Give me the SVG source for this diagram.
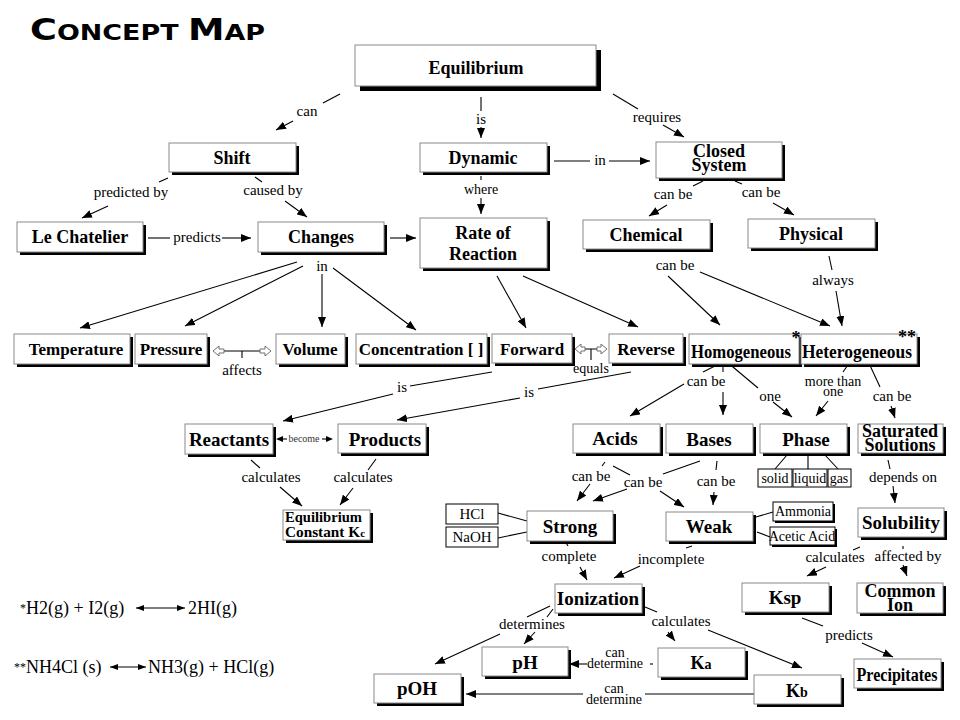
<svg xmlns="http://www.w3.org/2000/svg" width="960" height="720" viewBox="0 0 960 720">
<defs>
<marker id="ah" markerUnits="userSpaceOnUse" markerWidth="10" markerHeight="8" refX="10" refY="4" orient="auto"><path d="M0,0 L10,4 L0,8 z" fill="#000"/></marker>
<marker id="ah2" markerUnits="userSpaceOnUse" markerWidth="8" markerHeight="6" refX="8" refY="3" orient="auto-start-reverse"><path d="M0,0 L8,3 L0,6 z" fill="#000"/></marker>
</defs>
<style>
.sh{fill:#000}
.bx{fill:#fff;stroke:#8a8a8a;stroke-width:1}
.sb{fill:#fff;stroke:#000;stroke-width:1}
.t{font-family:"Liberation Serif","Times New Roman",serif;font-weight:bold;font-size:18px;text-anchor:middle;fill:#000}
.r{font-size:17px}
.b19{font-size:19px}
.s{font-family:"Liberation Serif","Times New Roman",serif;font-size:14px;text-anchor:middle;fill:#000}
.l{font-family:"Liberation Serif","Times New Roman",serif;font-size:15px;text-anchor:middle;fill:#000}
.c{stroke:#000;stroke-width:1.1;fill:none}
.a{marker-end:url(#ah)}
.d{marker-start:url(#ah2);marker-end:url(#ah2)}
.ho{fill:#fff;stroke:#707070;stroke-width:1}
.eq{font-family:"Liberation Serif","Times New Roman",serif;font-size:18px;fill:#000}
</style>
<rect width="960" height="720" fill="#fff"/>

<text x="30" y="40" font-family="DejaVu Sans, Liberation Sans, sans-serif" font-weight="bold" textLength="235" lengthAdjust="spacingAndGlyphs"><tspan font-size="30">C</tspan><tspan font-size="22">ONCEPT </tspan><tspan font-size="30">M</tspan><tspan font-size="22">AP</tspan></text>

<g id="connectors">
<path class="c" d="M340,94 L323,103"/><path class="c a" d="M293,121 L276,130"/>
<path class="c" d="M481,97 L481,111"/><path class="c a" d="M481,127 L481,138"/>
<path class="c" d="M613,94 L638,109"/><path class="c a" d="M663,125 L684,137"/>
<path class="c" d="M554,161 L590,161"/><path class="c a" d="M609,161 L650,161"/>
<path class="c" d="M168,178 L159,182"/><path class="c a" d="M108,206 L82,218"/>
<path class="c" d="M255,177 L262,182"/><path class="c a" d="M285,201 L307,217"/>
<path class="c" d="M148,238 L170,238"/><path class="c a" d="M222,238 L251,238"/>
<path class="c a" d="M390,238 L416,238"/>
<path class="c" d="M481,176 L481,180"/><path class="c a" d="M481,198 L481,214"/>
<path class="c" d="M703,181 L693,186"/><path class="c a" d="M667,205 L649,216"/>
<path class="c" d="M735,181 L742,184"/><path class="c a" d="M773,203 L794,215"/>
<path class="c a" d="M297,262 L80,328"/>
<path class="c a" d="M303,266 L185,326"/>
<path class="c a" d="M322,274 L322,327"/>
<path class="c a" d="M333,268 L416,330"/>
<path class="c" d="M224,351 L260,351 M242,351 L242,358"/>
<polygon class="ho" points="213,351 219,346 219,349 224,349 224,353 219,353 219,356"/>
<polygon class="ho" points="271,351 265,346 265,349 260,349 260,353 265,353 265,356"/>
<path class="c" d="M585,349 L597,349 M591,349 L591,360"/>
<polygon class="ho" points="575,349 581,344 581,347 585,347 585,351 581,351 581,354"/>
<polygon class="ho" points="607,349 601,344 601,347 597,347 597,351 601,351 601,354"/>
<path class="c a" d="M497,276 L526,328"/>
<path class="c a" d="M523,276 L638,327"/>
<path class="c a" d="M668,276 L720,325"/>
<path class="c a" d="M700,272 L830,326"/>
<path class="c" d="M829,256 L832,270"/><path class="c a" d="M836,291 L842,326"/>
<path class="c" d="M492,372 L410,386"/><path class="c a" d="M393,394 L283,421"/>
<path class="c" d="M631,372 L538,389"/><path class="c a" d="M520,398 L397,420"/>
<polygon points="276,439 283,436 283,442" fill="#000"/><path class="c" d="M283,439 L287,439"/>
<polygon points="333,439 326,436 326,442" fill="#000"/><path class="c" d="M322,439 L326,439"/>
<path class="c" d="M251,460 L260,468"/><path class="c a" d="M280,487 L302,506"/>
<path class="c" d="M376,459 L368,470"/><path class="c a" d="M353,488 L340,505"/>
<path class="c" d="M703,372 L721,363"/><path class="c a" d="M684,384 L630,416"/>
<path class="c" d="M723,363 L723,372"/><path class="c a" d="M723,392 L723,415"/>
<path class="c" d="M727,362 L758,388"/><path class="c a" d="M773,402 L792,417"/>
<path class="c" d="M850,362 L843,372"/><path class="c a" d="M828,401 L816,416"/>
<path class="c" d="M867,359 L880,387"/><path class="c a" d="M891,406 L895,418"/>
<path class="c" d="M605,462 L602,466"/><path class="c a" d="M590,484 L577,501"/>
<path class="c" d="M613,466 L630,475"/><path class="c a" d="M660,491 L684,507"/>
<path class="c" d="M700,461 L663,474"/><path class="c a" d="M627,489 L593,501"/>
<path class="c" d="M717,461 L716,470"/><path class="c a" d="M714,492 L713,505"/>
<path class="c" d="M787,455 L775,469 M808,455 L808,469 M825,455 L838,469"/>
<path class="c" d="M888,460 L890,469"/><path class="c a" d="M893,486 L895,503"/>
<path class="c" d="M756,517 L773,512 M757,532 L770,537"/>
<path class="c" d="M498,513 L527,521 M498,538 L527,532"/>
<path class="c" d="M565,541 L568,546"/><path class="c a" d="M580,567 L587,580"/>
<path class="c" d="M692,546 L686,548"/><path class="c a" d="M640,566 L614,578"/>
<path class="c" d="M860,547 L853,550"/><path class="c a" d="M826,567 L807,576"/>
<path class="c" d="M903,546 L903,549"/><path class="c a" d="M903,565 L907,576"/>
<path class="c" d="M550,606 L527,617"/><path class="c a" d="M500,634 L435,664"/>
<path class="c" d="M553,609 L547,617"/><path class="c a" d="M535,632 L524,644"/>
<path class="c" d="M645,607 L657,612"/><path class="c a" d="M668,632 L675,641"/>
<path class="c a" d="M708,630 L802,668"/>
<path class="c" d="M653,664 L650,664"/><path class="c a" d="M587,664 L569,664"/>
<path class="c" d="M754,694 L645,694"/><path class="c a" d="M583,694 L466,694"/>
<path class="c" d="M802,618 L823,626"/><path class="c a" d="M862,643 L893,657"/>
<path class="c d" d="M136,608 L185,608"/>
<path class="c d" d="M110,667 L146,667"/>
</g>

<g id="labels">
<text class="l" x="307" y="116">can</text>
<text class="l" x="481" y="124">is</text>
<text class="l" x="657" y="122">requires</text>
<text class="l" x="600" y="165">in</text>
<text class="l" x="131" y="197">predicted by</text>
<text class="l" x="273" y="195">caused by</text>
<text class="l" x="197" y="242">predicts</text>
<text class="s" x="481" y="194">where</text>
<text class="l" x="673" y="199">can be</text>
<text class="l" x="761" y="197">can be</text>
<text class="l" x="322" y="271">in</text>
<text class="l" x="242" y="375">affects</text>
<text class="s" x="591" y="373">equals</text>
<text class="l" x="675" y="270">can be</text>
<text class="l" x="833" y="285">always</text>
<text class="l" x="402" y="392">is</text>
<text class="l" x="529" y="397">is</text>
<text x="304" y="442" font-family="Liberation Serif, serif" font-size="10" fill="#333" text-anchor="middle">become</text>
<text class="l" x="271" y="482">calculates</text>
<text class="l" x="363" y="482">calculates</text>
<text class="l" x="706" y="386">can be</text>
<text class="l" x="770" y="401">one</text>
<text class="s" x="833" y="386">more than</text>
<text class="s" x="833" y="396">one</text>
<text class="l" x="892" y="401">can be</text>
<text class="l" x="591" y="481">can be</text>
<text class="l" x="643" y="487">can be</text>
<text class="l" x="716" y="486">can be</text>
<text class="l" x="903" y="482">depends on</text>
<text class="l" x="569" y="561">complete</text>
<text class="l" x="671" y="564">incomplete</text>
<text class="l" x="835" y="562">calculates</text>
<text class="l" x="908" y="561">affected by</text>
<text class="l" x="532" y="629">determines</text>
<text class="l" x="681" y="626">calculates</text>
<text class="s" x="615" y="657">can</text>
<text class="s" x="615" y="668">determine</text>
<text class="s" x="614" y="693">can</text>
<text class="s" x="614" y="704">determine</text>
<text class="l" x="849" y="640">predicts</text>
</g>

<g id="n-equilibrium"><rect class="sh" x="360" y="50" width="241" height="41"/><rect class="bx" x="355" y="45" width="241" height="41"/><text class="t" x="476" y="74" font-size="24">Equilibrium</text></g>
<g id="n-shift"><rect class="sh" x="172" y="146" width="127" height="29"/><rect class="bx" x="169" y="143" width="127" height="29"/><text class="t" x="232" y="164">Shift</text></g>
<g id="n-dynamic"><rect class="sh" x="423" y="146" width="127" height="29"/><rect class="bx" x="420" y="143" width="127" height="29"/><text class="t" x="483" y="164">Dynamic</text></g>
<g id="n-closed"><rect class="sh" x="659" y="145" width="126" height="36"/><rect class="bx" x="656" y="142" width="126" height="36"/><text class="t" x="719" y="157">Closed</text><text class="t" x="719" y="171">System</text></g>
<g id="n-lechatelier"><rect class="sh" x="20" y="225" width="126" height="30"/><rect class="bx" x="17" y="222" width="126" height="30"/><text class="t" x="80" y="243">Le Chatelier</text></g>
<g id="n-changes"><rect class="sh" x="261" y="225" width="126" height="30"/><rect class="bx" x="258" y="222" width="126" height="30"/><text class="t" x="321" y="243">Changes</text></g>
<g id="n-rate"><rect class="sh" x="423" y="221" width="127" height="50"/><rect class="bx" x="420" y="218" width="127" height="50"/><text class="t" x="483" y="239">Rate of</text><text class="t" x="483" y="260">Reaction</text></g>
<g id="n-chemical"><rect class="sh" x="586" y="223" width="127" height="29"/><rect class="bx" x="583" y="220" width="127" height="29"/><text class="t" x="646" y="241">Chemical</text></g>
<g id="n-physical"><rect class="sh" x="751" y="222" width="127" height="29"/><rect class="bx" x="748" y="219" width="127" height="29"/><text class="t" x="811" y="240">Physical</text></g>
<g id="n-temperature"><rect class="sh" x="17" y="337" width="116" height="30"/><rect class="bx" x="14" y="334" width="116" height="30"/><text class="t r" x="76" y="355">Temperature</text></g>
<g id="n-pressure"><rect class="sh" x="138" y="337" width="72" height="30"/><rect class="bx" x="135" y="334" width="72" height="30"/><text class="t r" x="171" y="355">Pressure</text></g>
<g id="n-volume"><rect class="sh" x="279" y="337" width="69" height="30"/><rect class="bx" x="276" y="334" width="69" height="30"/><text class="t r" x="310" y="355">Volume</text></g>
<g id="n-concentration"><rect class="sh" x="359" y="337" width="131" height="30"/><rect class="bx" x="356" y="334" width="131" height="30"/><text class="t r" x="421" y="355">Concentration [ ]</text></g>
<g id="n-forward"><rect class="sh" x="495" y="337" width="80" height="29"/><rect class="bx" x="492" y="334" width="80" height="29"/><text class="t r" x="532" y="355">Forward</text></g>
<g id="n-reverse"><rect class="sh" x="612" y="337" width="74" height="29"/><rect class="bx" x="609" y="334" width="74" height="29"/><text class="t r" x="646" y="355">Reverse</text></g>
<g id="n-homogeneous"><rect class="sh" x="692" y="337" width="110" height="30"/><rect class="bx" x="689" y="334" width="110" height="30"/><text class="t" x="741" y="358" font-size="20" textLength="100" lengthAdjust="spacingAndGlyphs">Homogeneous</text><text class="t" x="796" y="344" font-size="12">*</text></g>
<g id="n-heterogeneous"><rect class="sh" x="804" y="337" width="116" height="30"/><rect class="bx" x="801" y="334" width="116" height="30"/><text class="t" x="857" y="358" font-size="20" textLength="110" lengthAdjust="spacingAndGlyphs">Heterogeneous</text><text class="t" x="907" y="343" font-size="12">**</text></g>
<g id="n-reactants"><rect class="sh" x="188" y="427" width="88" height="30"/><rect class="bx" x="185" y="424" width="88" height="30"/><text class="t b19" x="229" y="446">Reactants</text></g>
<g id="n-products"><rect class="sh" x="341" y="427" width="88" height="29"/><rect class="bx" x="338" y="424" width="88" height="29"/><text class="t b19" x="385" y="446">Products</text></g>
<g id="n-kc"><rect class="sh" x="286" y="513" width="87" height="30"/><rect class="bx" x="283" y="510" width="87" height="30"/><text x="285" y="522" font-family="Liberation Serif, Times New Roman, serif" font-weight="bold" font-size="14" textLength="77" lengthAdjust="spacingAndGlyphs">Equilibrium</text><text x="285" y="537" font-family="Liberation Serif, Times New Roman, serif" font-weight="bold" font-size="14" textLength="80" lengthAdjust="spacingAndGlyphs">Constant K<tspan font-size="10">c</tspan></text></g>
<g id="n-hcl"><rect class="sb" x="446" y="504" width="52" height="20"/><text class="l" x="472" y="519">HCl</text></g>
<g id="n-naoh"><rect class="sb" x="446" y="527" width="52" height="20"/><text class="l" x="472" y="542">NaOH</text></g>
<g id="n-acids"><rect class="sh" x="576" y="427" width="87" height="29"/><rect class="bx" x="573" y="424" width="87" height="29"/><text class="t b19" x="615" y="445">Acids</text></g>
<g id="n-bases"><rect class="sh" x="669" y="427" width="87" height="29"/><rect class="bx" x="666" y="424" width="87" height="29"/><text class="t b19" x="709" y="446">Bases</text></g>
<g id="n-phase"><rect class="sh" x="763" y="427" width="87" height="29"/><rect class="bx" x="760" y="424" width="87" height="29"/><text class="t b19" x="806" y="446">Phase</text></g>
<g id="n-saturated"><rect class="sh" x="861" y="427" width="85" height="29"/><rect class="bx" x="858" y="424" width="85" height="29"/><text class="t" x="900" y="437" font-size="17">Saturated</text><text class="t" x="900" y="451" font-size="17">Solutions</text></g>
<g id="n-solid"><rect class="sb" x="758" y="469" width="34" height="18"/><text class="s" x="775" y="483" font-size="13">solid</text></g>
<g id="n-liquid"><rect class="sb" x="793" y="469" width="34" height="18"/><text class="s" x="810" y="483" font-size="13">liquid</text></g>
<g id="n-gas"><rect class="sb" x="828" y="469" width="23" height="18"/><text class="s" x="839" y="483" font-size="13">gas</text></g>
<g id="n-strong"><rect class="sh" x="530" y="514" width="86" height="30"/><rect class="bx" x="527" y="511" width="86" height="30"/><text class="t b19" x="570" y="533">Strong</text></g>
<g id="n-weak"><rect class="sh" x="669" y="515" width="87" height="29"/><rect class="bx" x="666" y="512" width="87" height="29"/><text class="t b19" x="709" y="533">Weak</text></g>
<g id="n-ammonia"><rect class="sh" x="775" y="504" width="60" height="19"/><rect class="sb" x="773" y="502" width="60" height="19"/><text class="s" x="803" y="516" font-size="12.5" fill="#222">Ammonia</text></g>
<g id="n-acetic"><rect class="sh" x="772" y="529" width="65" height="18"/><rect class="sb" x="770" y="527" width="65" height="18"/><text class="s" x="802" y="541" font-size="12.5" fill="#222">Acetic Acid</text></g>
<g id="n-solubility"><rect class="sh" x="861" y="511" width="86" height="29"/><rect class="bx" x="858" y="508" width="86" height="29"/><text class="t b19" x="901" y="529">Solubility</text></g>
<g id="n-ionization"><rect class="sh" x="558" y="587" width="87" height="29"/><rect class="bx" x="555" y="584" width="87" height="29"/><text class="t b19" x="598" y="605">Ionization</text></g>
<g id="n-ksp"><rect class="sh" x="745" y="586" width="87" height="29"/><rect class="bx" x="742" y="583" width="87" height="29"/><text class="t b19" x="785" y="604">Ksp</text></g>
<g id="n-common"><rect class="sh" x="860" y="586" width="86" height="30"/><rect class="bx" x="857" y="583" width="86" height="30"/><text class="t" x="900" y="597" font-size="17">Common</text><text class="t" x="900" y="611" font-size="17">Ion</text></g>
<g id="n-ph"><rect class="sh" x="485" y="650" width="86" height="29"/><rect class="bx" x="482" y="647" width="86" height="29"/><text class="t b19" x="525" y="669">pH</text></g>
<g id="n-ka"><rect class="sh" x="661" y="651" width="87" height="29"/><rect class="bx" x="658" y="648" width="87" height="29"/><text class="t" x="701" y="669" font-size="20">K<tspan font-size="14">a</tspan></text></g>
<g id="n-kb"><rect class="sh" x="757" y="678" width="87" height="29"/><rect class="bx" x="754" y="675" width="87" height="29"/><text class="t" x="797" y="697" font-size="20">K<tspan font-size="14">b</tspan></text></g>
<g id="n-precipitates"><rect class="sh" x="857" y="662" width="87" height="29"/><rect class="bx" x="854" y="659" width="87" height="29"/><text class="t b19" x="897" y="681" textLength="81" lengthAdjust="spacingAndGlyphs">Precipitates</text></g>
<g id="n-poh"><rect class="sh" x="377" y="677" width="87" height="29"/><rect class="bx" x="374" y="674" width="87" height="29"/><text class="t b19" x="417" y="695">pOH</text></g>

<g id="equations">
<text class="eq" x="20" y="614"><tspan font-size="12" dy="-2">*</tspan><tspan dy="2">H2(g) + I2(g)</tspan></text>
<text class="eq" x="188" y="614">2HI(g)</text>
<text class="eq" x="14" y="673"><tspan font-size="12" dy="-2">**</tspan><tspan dy="2">NH4Cl (s)</tspan></text>
<text class="eq" x="148" y="673">NH3(g) + HCl(g)</text>
</g>
</svg>
